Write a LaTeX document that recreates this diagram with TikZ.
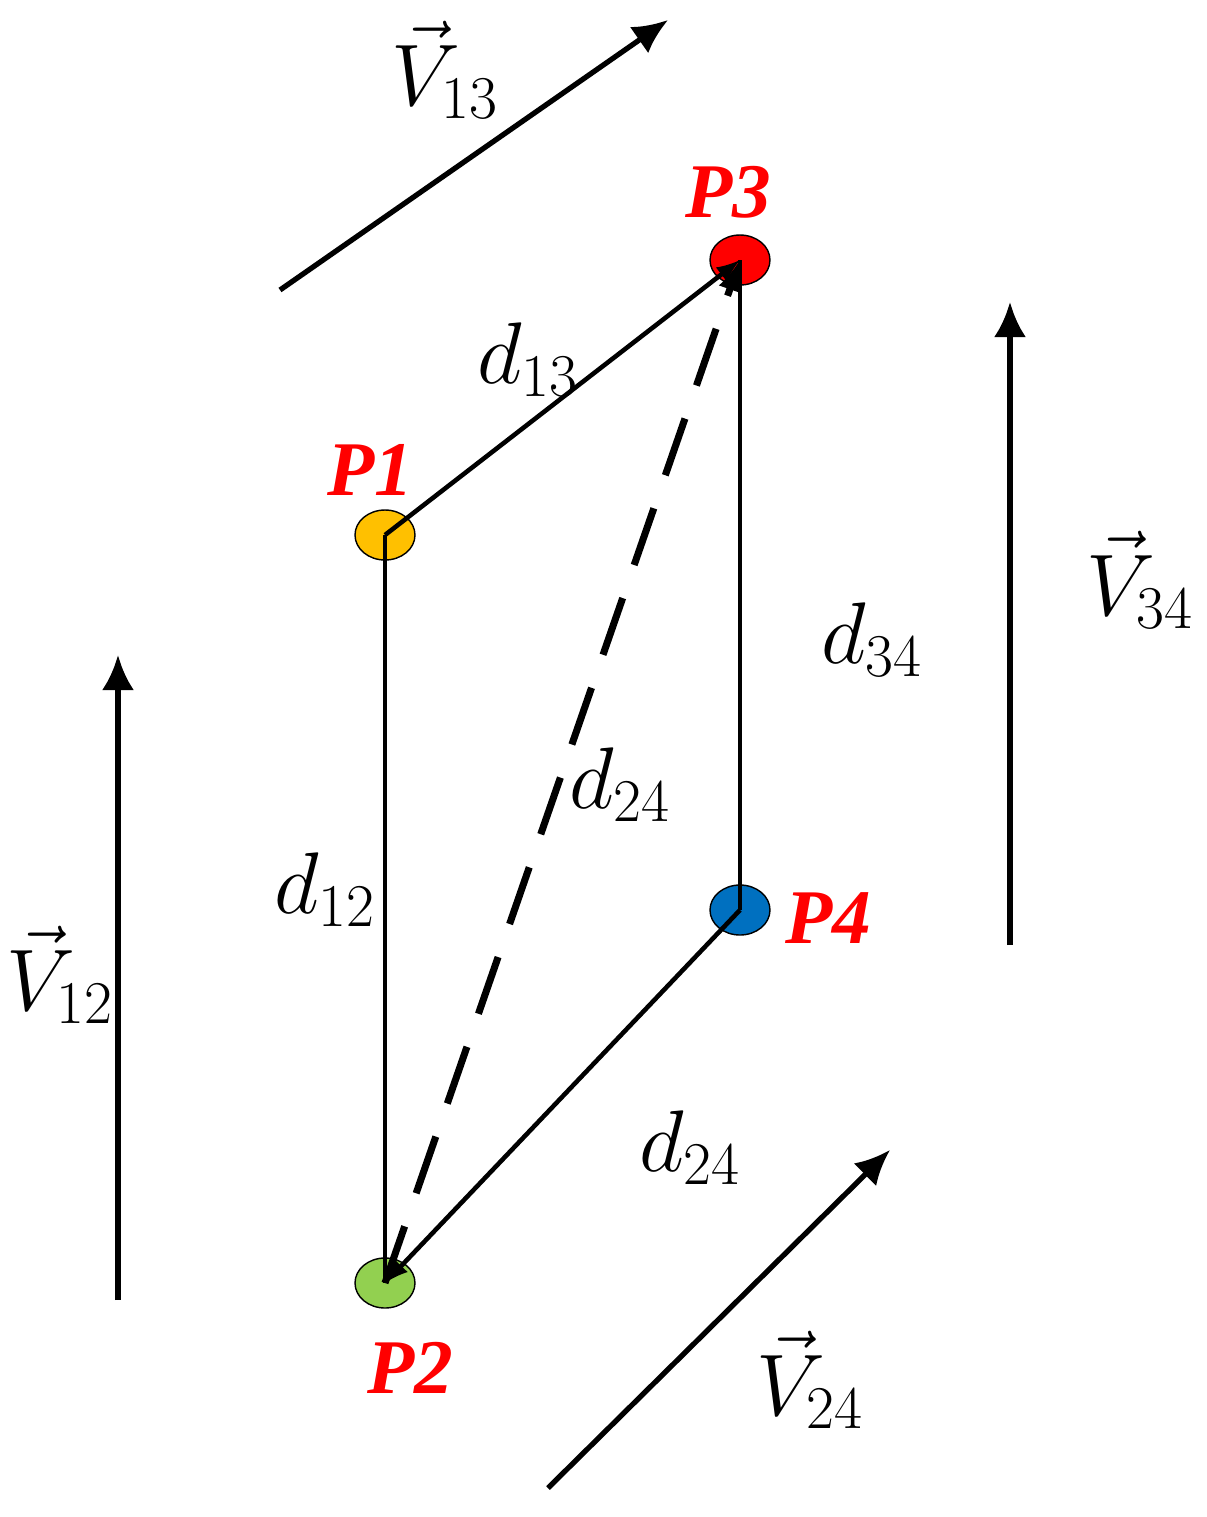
\documentclass[tikz,border=0pt]{standalone}
\usepackage{fontspec}
\setmainfont{Liberation Serif}
\usetikzlibrary{shapes.geometric,arrows.meta}
\definecolor{pone}{RGB}{255,192,0}
\definecolor{ptwo}{RGB}{146,208,80}
\definecolor{pthree}{RGB}{255,0,0}
\definecolor{pfour}{RGB}{0,112,192}
\begin{document}
\begin{tikzpicture}[x=1cm,y=-1cm,
  pt/.style={ellipse,draw,minimum width=0.6cm,minimum height=0.5cm,inner sep=0pt},
  plab/.style={text=red,font=\fontsize{22}{26}\selectfont\bfseries\itshape},
  lab/.style={font=\fontsize{24}{28}\selectfont},
  vec/.style={-{Latex[length=0.35cm,width=0.32cm]},line width=1.5pt},
  edge/.style={line width=1.3pt}]
\useasboundingbox (0,0) rectangle (12.07,15.17);
% points
\node[pt,fill=pone] (p1) at (3.85,5.35) {};
\node[pt,fill=ptwo] (p2) at (3.85,12.83) {};
\node[pt,fill=pthree] (p3) at (7.40,2.60) {};
\node[pt,fill=pfour] (p4) at (7.40,9.10) {};
\node[plab] (l1) at (3.70,4.70) {P1};
\node[plab] (l2) at (4.10,13.68) {P2};
\node[plab] (l3) at (7.28,1.92) {P3};
\node[plab] (l4) at (8.28,9.18) {P4};

% edges
\draw[edge] (p1.center) -- (p2.center);
\draw[edge,-latex] (p1.center) -- (p3.center);
\draw[edge] (p4.center) -- (p3.center);
\draw[edge,-latex] (p4.center) -- (p2.center);
\draw[edge,-latex,dash pattern=on 0.6cm off 0.35cm,line width=2pt] (p2.center) -- (p3.center);

% velocities
\coordinate (a13) at (2.80,2.90); \coordinate (b13) at (6.68,0.20);
\coordinate (a12) at (1.18,13.00); \coordinate (b12) at (1.18,6.55);
\coordinate (a34) at (10.10,9.45); \coordinate (b34) at (10.10,3.02);
\coordinate (a24) at (5.48,14.88); \coordinate (b24) at (8.90,11.50);
\draw[vec] (a13) -- (b13);
\draw[vec] (a12) -- (b12);
\draw[vec] (a34) -- (b34);
\draw[vec] (a24) -- (b24);

% labels
\node[lab] (v13) at (4.45,0.70) {$\vec{V}_{13}$};
\node[lab] (v12) at (0.60,9.75) {$\vec{V}_{12}$};
\node[lab] (v34) at (11.40,5.80) {$\vec{V}_{34}$};
\node[lab] (v24) at (8.10,13.80) {$\vec{V}_{24}$};
\node[lab] (d13) at (5.28,3.60) {$d_{13}$};
\node[lab] (d12) at (3.25,8.90) {$d_{12}$};
\node[lab] (d34) at (8.72,6.40) {$d_{34}$};
\node[lab] (d24a) at (6.20,7.85) {$d_{24}$};
\node[lab] (d24b) at (6.90,11.48) {$d_{24}$};
\end{tikzpicture}
\end{document}
